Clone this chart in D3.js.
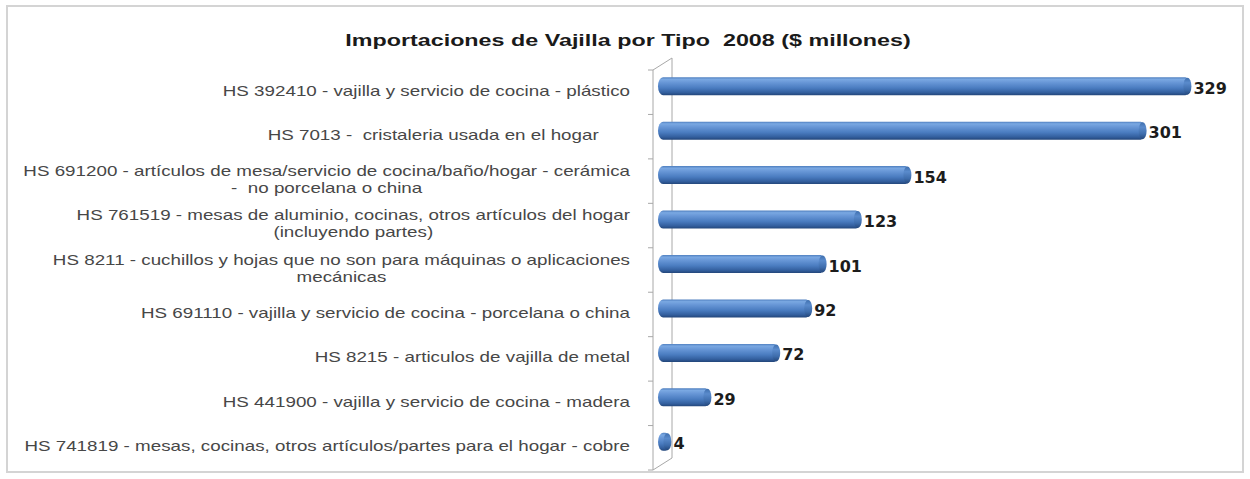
<!DOCTYPE html>
<html>
<head>
<meta charset="utf-8">
<script src="https://cdn.jsdelivr.net/npm/d3@7"></script>
<style>
  html, body { margin: 0; padding: 0; background: #fff; }
  svg text { white-space: pre; }
</style>
</head>
<body>
<svg id="chart" width="1250" height="479"></svg>
<script>
// Importaciones de vajilla por tipo, 2008 ($ millones)
const title = "Importaciones de Vajilla por Tipo  2008 ($ millones)";

const categories = [
  ["HS 392410 - vajilla y servicio de cocina - plástico"],
  ["HS 7013 -  cristaleria usada en el hogar      "],
  ["HS 691200 - artículos de mesa/servicio de cocina/baño/hogar - cerámica", "-  no porcelana o china"],
  ["HS 761519 - mesas de aluminio, cocinas, otros artículos del hogar", "(incluyendo partes)"],
  ["HS 8211 - cuchillos y hojas que no son para máquinas o aplicaciones", "mecánicas"],
  ["HS 691110 - vajilla y servicio de cocina - porcelana o china"],
  ["HS 8215 - articulos de vajilla de metal"],
  ["HS 441900 - vajilla y servicio de cocina - madera"],
  ["HS 741819 - mesas, cocinas, otros artículos/partes para el hogar - cobre"]
];
const values = [329, 301, 154, 123, 101, 92, 72, 29, 4];
const valueLabels = ["329", "301", "154", "123", "101", "92", "72", "29", "4"];

const svg = d3.select("#chart");

// outer chart frame
svg.append("rect").attr("x", 7).attr("y", 6).attr("width", 1236).attr("height", 466)
  .attr("fill", "#fff").attr("stroke", "#d4d4d4").attr("stroke-width", 2);

// 3D depth of the plot (front wall -> back wall)
const depthX = 19, depthY = -12;
const frontX = 653;

const y = d3.scaleBand().domain(d3.range(categories.length)).range([70, 470]);
const x = d3.scaleLinear().domain([0, 350]).range([664, 664 + 350 * 1.6]);

// gradients for cylinder bars
const defs = svg.append("defs");
const gBody = defs.append("linearGradient").attr("id", "barBody").attr("x1", 0).attr("y1", 0).attr("x2", 0).attr("y2", 1);
[["0%", "#4f7fbf"], ["12%", "#7aa8e2"], ["30%", "#6796d6"], ["60%", "#4a7cc0"], ["85%", "#335f9e"], ["100%", "#23467a"]]
  .forEach(([o, c]) => gBody.append("stop").attr("offset", o).attr("stop-color", c));
const gCap = defs.append("linearGradient").attr("id", "barCap").attr("x1", 0).attr("y1", 0).attr("x2", 0).attr("y2", 1);
[["0%", "#3f6fae"], ["30%", "#5a8bcc"], ["70%", "#3e6dac"], ["100%", "#24477b"]]
  .forEach(([o, c]) => gCap.append("stop").attr("offset", o).attr("stop-color", c));

// category axis wall
const axisColor = "#a8a8a8";
const yTop = y.range()[0], yBot = y.range()[1];
const wall = svg.append("g").attr("stroke", axisColor).attr("stroke-width", 1).attr("fill", "none");
wall.append("line").attr("x1", frontX).attr("y1", yTop).attr("x2", frontX).attr("y2", yBot);
wall.append("line").attr("x1", frontX + depthX).attr("y1", yTop + depthY).attr("x2", frontX + depthX).attr("y2", yBot + depthY);
wall.append("line").attr("x1", frontX).attr("y1", yTop).attr("x2", frontX + depthX).attr("y2", yTop + depthY);
wall.append("line").attr("x1", frontX).attr("y1", yBot).attr("x2", frontX + depthX).attr("y2", yBot + depthY);
// ticks at band boundaries
const bounds = d3.range(categories.length + 1).map(i => yTop + i * y.step());
wall.selectAll("line.tick").data(bounds).join("line").attr("class", "tick")
  .attr("x1", frontX - 5).attr("x2", frontX).attr("y1", d => d).attr("y2", d => d);

// bars (horizontal cylinders)
const barH = 18;
const barShift = depthY / 2;
const bars = svg.append("g");
values.forEach((v, i) => {
  const cy = y(i) + y.bandwidth() / 2 + barShift;
  const x0 = x(0) - 6, x1 = x(v);
  const g = bars.append("g");
  g.append("rect").attr("x", x0).attr("y", cy - barH / 2).attr("width", Math.max(1, x1 - x0)).attr("height", barH)
    .attr("rx", 5).attr("ry", 9).attr("fill", "url(#barBody)");
  g.append("ellipse").attr("cx", x1 - 3).attr("cy", cy).attr("rx", 4).attr("ry", barH / 2 - 0.5)
    .attr("fill", "url(#barCap)");
});

// value labels
svg.append("g").selectAll("text").data(values).join("text")
  .attr("x", d => x(d) + 3)
  .attr("y", (d, i) => y(i) + y.bandwidth() / 2 + barShift + 3)
  .attr("dominant-baseline", "middle")
  .attr("font-family", "DejaVu Sans, sans-serif").attr("font-weight", "bold").attr("font-size", 16)
  .attr("fill", "#1c1c1c")
  .text((d, i) => valueLabels[i]);

// category labels: right-aligned block, lines centered, text widened horizontally
const labelFont = "Liberation Sans, Arial, sans-serif";
const labelSize = 14;
const labelRight = 630;
const widest = "HS 741819 - mesas, cocinas, otros artículos/partes para el hogar - cobre";
const probe = svg.append("text").attr("font-family", labelFont).attr("font-size", labelSize).text(widest);
const sx = 606 / probe.node().getComputedTextLength();
probe.remove();
const lineH = 17;
const labels = svg.append("g").attr("font-family", labelFont).attr("font-size", labelSize).attr("fill", "#474747");
categories.forEach((lines, i) => {
  const cy = y(i) + y.bandwidth() / 2;
  const g = labels.append("g").attr("transform", `translate(${labelRight},${cy}) scale(${sx},1)`);
  const t = g.append("text").attr("text-anchor", "middle").attr("dominant-baseline", "middle");
  const spans = lines.map((ln, k) => t.append("tspan")
    .attr("y", (k - (lines.length - 1) / 2) * lineH).text(ln));
  const maxW = d3.max(spans, s => s.node().getComputedTextLength());
  spans.forEach(s => s.attr("x", -maxW / 2));
});

// title
const titleSize = 17;
const titleG = svg.append("g");
const tTitle = titleG.append("text").attr("x", 0).attr("y", 0)
  .attr("text-anchor", "middle").attr("dominant-baseline", "middle")
  .attr("font-family", labelFont).attr("font-weight", "bold").attr("font-size", titleSize)
  .attr("fill", "#1a1a1a").text(title);
const tsx = 566 / tTitle.node().getComputedTextLength();
titleG.attr("transform", `translate(628,42) scale(${tsx},1)`);
</script>
</body>
</html>
